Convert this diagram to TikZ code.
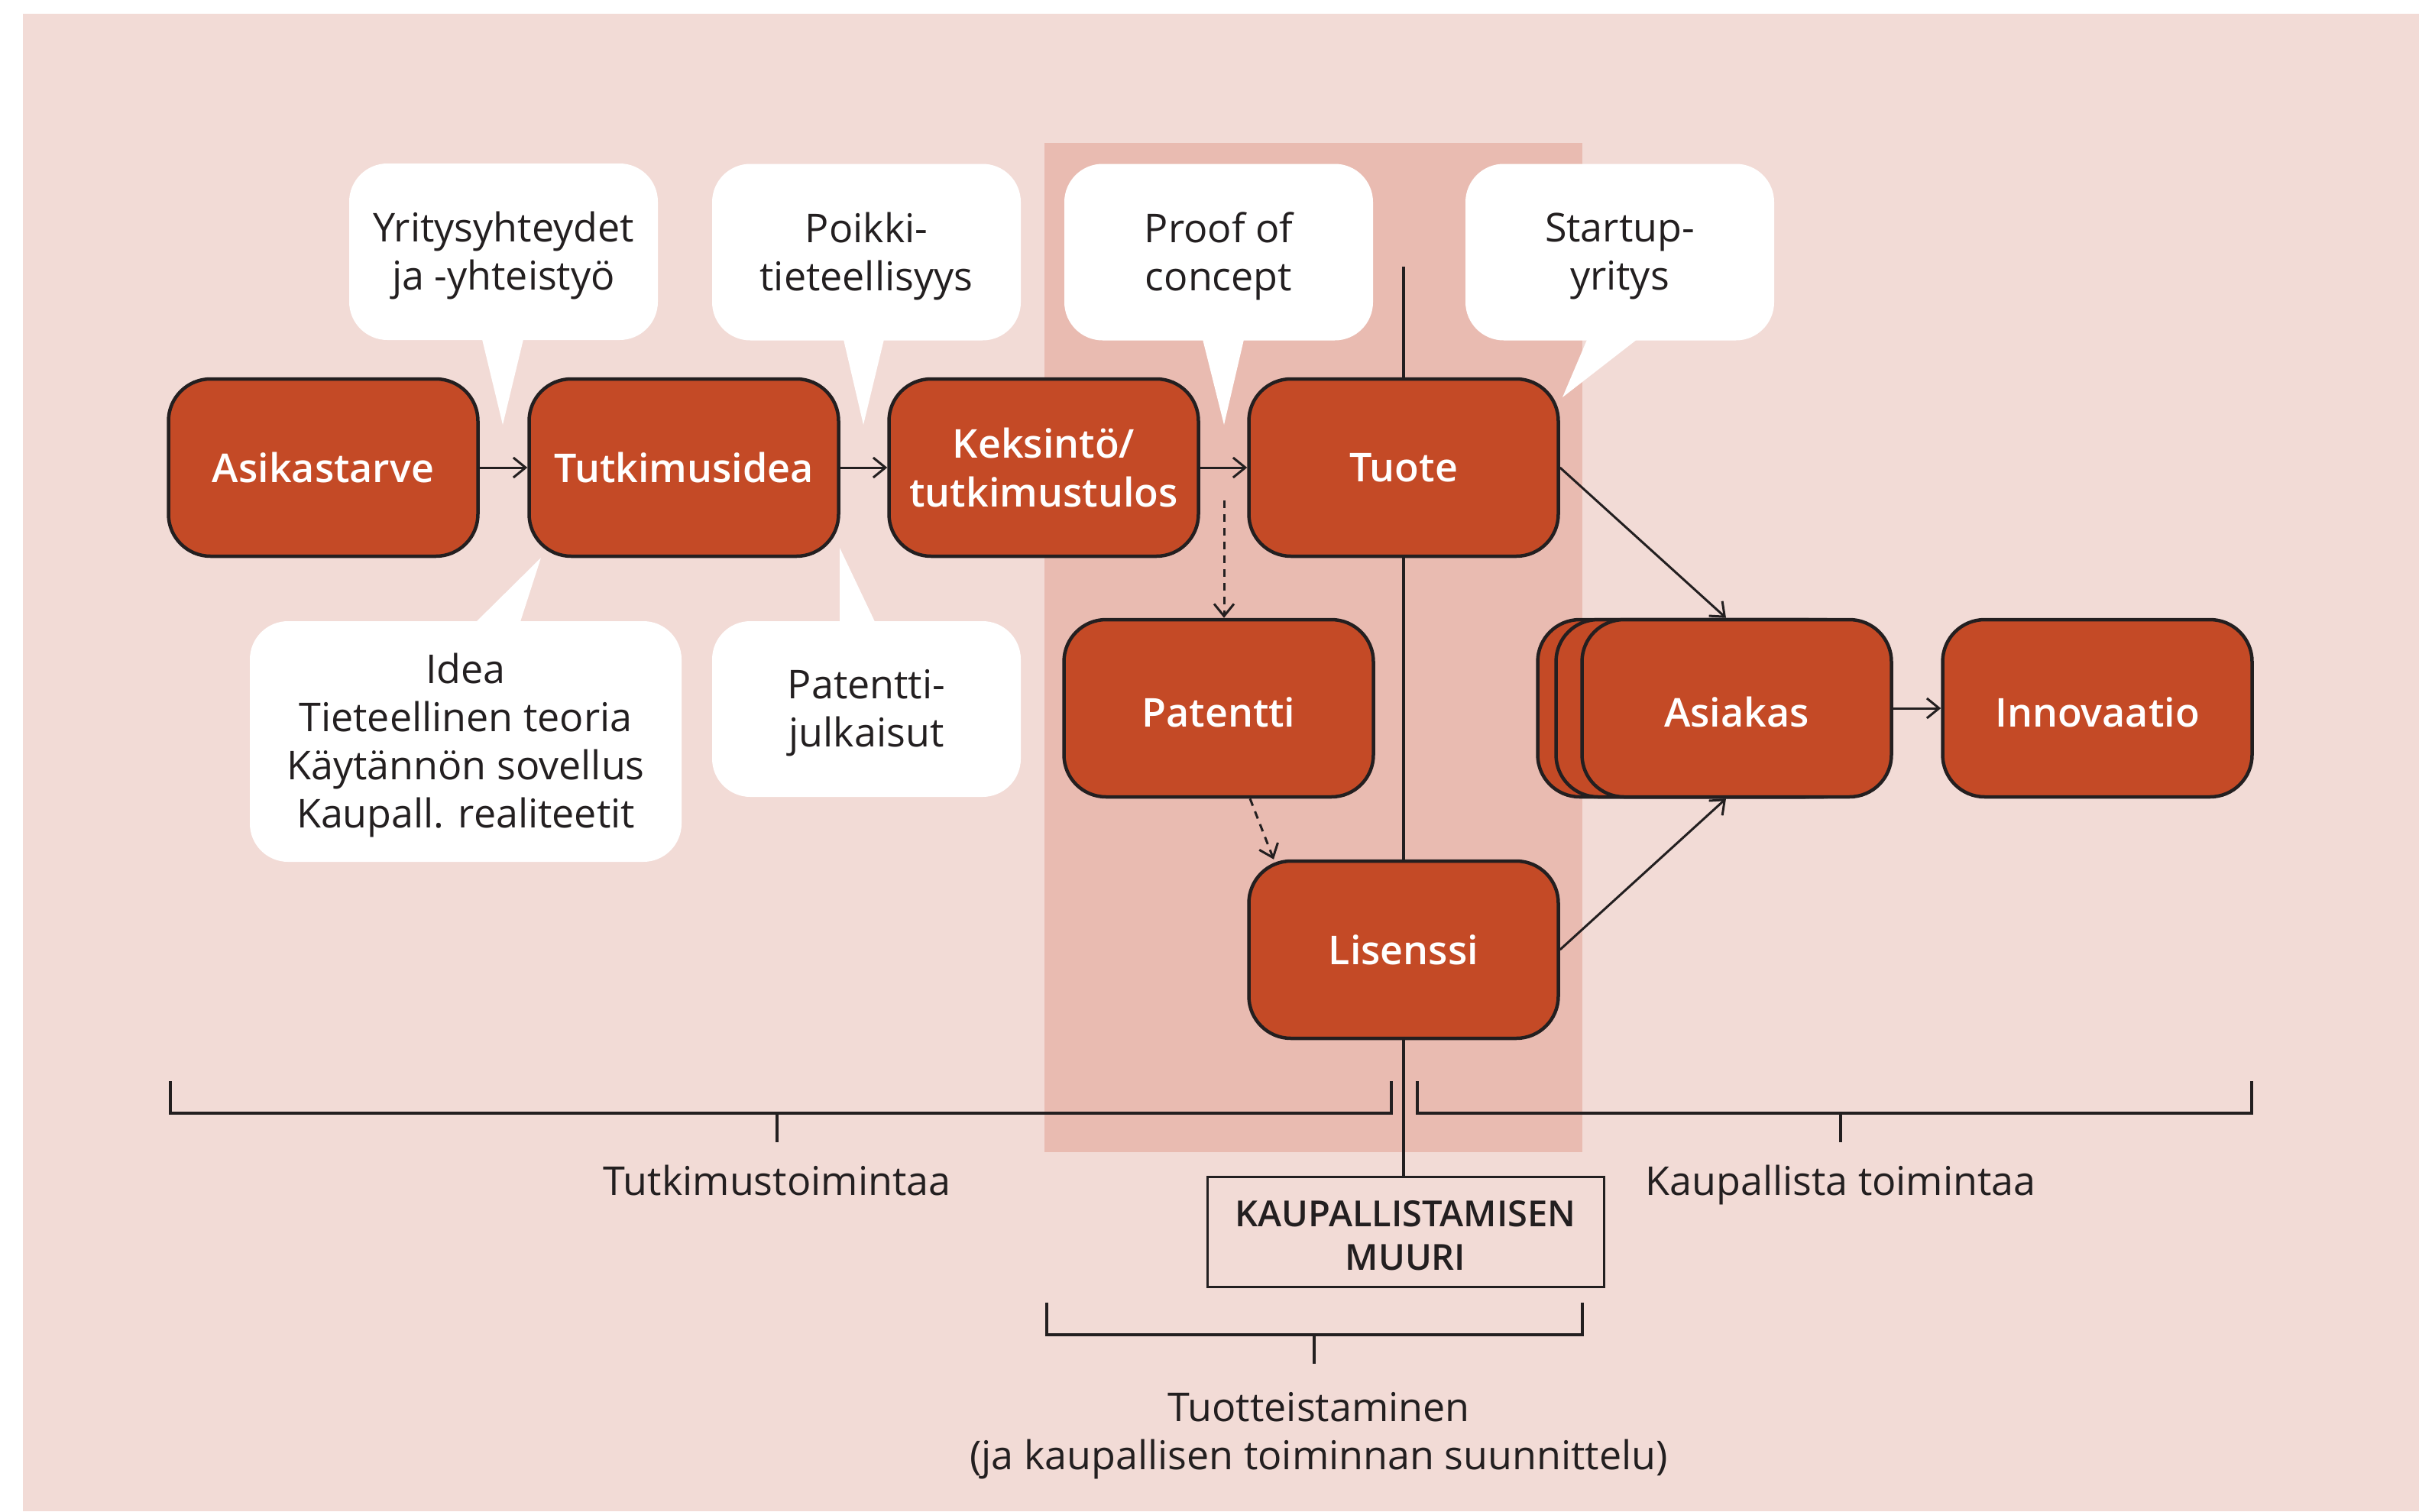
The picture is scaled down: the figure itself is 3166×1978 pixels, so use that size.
\documentclass[tikz,border=0pt]{standalone}
\usepackage{fontspec}
\setmainfont{Open Sans}
\IfFontExistsTF{Open Sans SemiBold}{%
  \newfontfamily\semib{Open Sans SemiBold}\newcommand\boxfont{\fontsize{52}{64}\selectfont\semib}\newcommand\muurifont{\fontsize{47}{57}\selectfont\semib}}{%
  \IfFontExistsTF{Open Sans Semibold}{%
    \newfontfamily\semib{Open Sans Semibold}\newcommand\boxfont{\fontsize{52}{64}\selectfont\semib}\newcommand\muurifont{\fontsize{47}{57}\selectfont\semib}}{%
    \newcommand\boxfont{\fontsize{50}{64}\selectfont\bfseries}\newcommand\muurifont{\fontsize{46}{57}\selectfont\bfseries}}}
\usetikzlibrary{arrows.meta}
\definecolor{bgpink}{HTML}{F2DBD6}
\definecolor{bandpink}{HTML}{E9BBB1}
\definecolor{boxfill}{HTML}{C44A26}
\definecolor{ink}{HTML}{231F20}
\begin{document}
\begin{tikzpicture}[x=1pt,y=-1pt,
  box/.style={draw=ink, line width=4.5pt, fill=boxfill, rounded corners=55pt, minimum width=405pt, minimum height=232pt, text=white, font=\boxfont, align=center, inner sep=0pt},
  lowtext/.style={text height=48pt, text depth=0pt},
  callout/.style={fill=white, rounded corners=50pt, minimum width=404pt, minimum height=231pt, inner sep=0pt},
  ctext/.style={text=ink, font=\fontsize{52}{63}\selectfont, align=center, inner sep=0pt},
  arr/.style={draw=ink, line width=3pt, -{Straight Barb[length=16pt,width=26pt,line width=3pt]}},
  dasharr/.style={arr, dash pattern=on 10pt off 8pt},
  wall/.style={draw=ink, line width=3.5pt},
  brace/.style={draw=ink, line width=4pt},
  lbl/.style={text=ink, font=\fontsize{52}{63}\selectfont, align=center, inner sep=0pt}
]
\useasboundingbox (0,0) rectangle (3166,1978);
\fill[bgpink] (30,18) rectangle (3166,1978);
\fill[bandpink] (1367,187) rectangle (2071,1508);

% callouts
\node[callout] (c1) at (659,329.5) {};
\fill[white] (630,440) -- (658,556) -- (686,440) -- cycle;
\node[ctext] (t1) at ([yshift=-5pt]c1.center) {Yritysyhteydet\\ja -yhteistyö};
\node[callout] (c2) at (1134,330) {};
\fill[white] (1103,440) -- (1130,556) -- (1158,440) -- cycle;
\node[ctext] (t2) at ([yshift=-5pt]c2.center) {Poikki-\\tieteellisyys};
\node[callout] (c3) at (1595,330) {};
\fill[white] (1573,440) -- (1602,556) -- (1629,440) -- cycle;
\node[ctext] (t3) at ([yshift=-5pt]c3.center) {Proof of\\concept};
\node[callout] (c4) at (2120,330) {};
\fill[white] (2079,440) -- (2045,520) -- (2148,440) -- cycle;
\node[ctext] (t4) at ([yshift=-5pt]c4.center) {Startup-\\yritys};
\node[callout, minimum width=565pt, minimum height=315pt] (c5) at (609.5,970.5) {};
\fill[white] (617,820) -- (708,730) -- (679,820) -- cycle;
\node[ctext] (t5) at ([yshift=-5pt]c5.center) {Idea\\Tieteellinen teoria\\Käytännön sovellus\\Kaupall. realiteetit};
\node[callout, minimum height=230pt] (c6) at (1134,928) {};
\fill[white] (1099,820) -- (1099,717) -- (1148,820) -- cycle;
\node[ctext] (t6) at ([yshift=-5pt]c6.center) {Patentti-\\julkaisut};

% main boxes
\node[box] (asik) at (423,612) {Asikastarve};
\node[box] (tutk) at (895,612) {Tutkimusidea};
\node[box] (keks) at (1366,612) {Keksintö/\\tutkimustulos};
\node[box] (tuote) at (1837,612) {Tuote};
\node[box, lowtext] (pat) at (1595,927) {Patentti};
\node[box] (lis) at (1837,1243) {Lisenssi};
\node[box] (asiakB) at (2215,927) {};
\node[box] (asiakC) at (2239,927) {};
\node[box, lowtext] (asiak) at (2273,927) {Asiakas};
\node[box, lowtext] (innov) at (2745,927) {Innovaatio};

% wall
\node[draw=ink, line width=3pt, minimum width=519pt, minimum height=144pt, inner sep=0pt] (muuri) at (1839.5,1612) {};
\node[text=ink, font=\muurifont, align=center, inner sep=0pt] (muurit) at ([yshift=-5pt]muuri.center) {KAUPALLISTAMISEN\\MUURI};
\coordinate (walltop) at (1837,349);
\draw[wall] (walltop) -- (tuote.north);
\draw[wall] (tuote.south) -- (lis.north);
\draw[wall] (lis.south) -- (lis.south |- muuri.north);

% arrows
\draw[arr] (asik.east) -- (tutk.west);
\draw[arr] (tutk.east) -- (keks.west);
\draw[arr] (keks.east) -- (tuote.west);
\coordinate (dstart) at (1602,655);
\draw[dasharr] (dstart) -- (dstart |- pat.north);
\draw[dasharr] ([xshift=41pt]pat.south) -- ([xshift=-170pt]lis.north);
\draw[arr] (tuote.east) -- ([xshift=-14pt]asiak.north);
\draw[arr] (lis.east) -- ([xshift=-14pt]asiak.south);
\draw[arr] (asiak.east) -- (innov.west);

% brackets
\draw[brace] (223,1415) -- (223,1457) -- (1821,1457) -- (1821,1415);
\draw[brace] (1017,1457) -- (1017,1495);
\node[lbl, anchor=base] (tutkl) at (1017,1564) {Tutkimustoimintaa};
\draw[brace] (1855,1415) -- (1855,1457) -- (2947,1457) -- (2947,1415);
\draw[brace] (2409,1457) -- (2409,1495);
\node[lbl, anchor=base] (kaupl) at (2409,1564) {Kaupallista toimintaa};
\draw[brace] (1370,1705) -- (1370,1747) -- (2071,1747) -- (2071,1705);
\draw[brace] (1720,1747) -- (1720,1785);
\node[lbl] (tuotl) at (1726,1879) {Tuotteistaminen\\(ja kaupallisen toiminnan suunnittelu)};
\end{tikzpicture}
\end{document}
